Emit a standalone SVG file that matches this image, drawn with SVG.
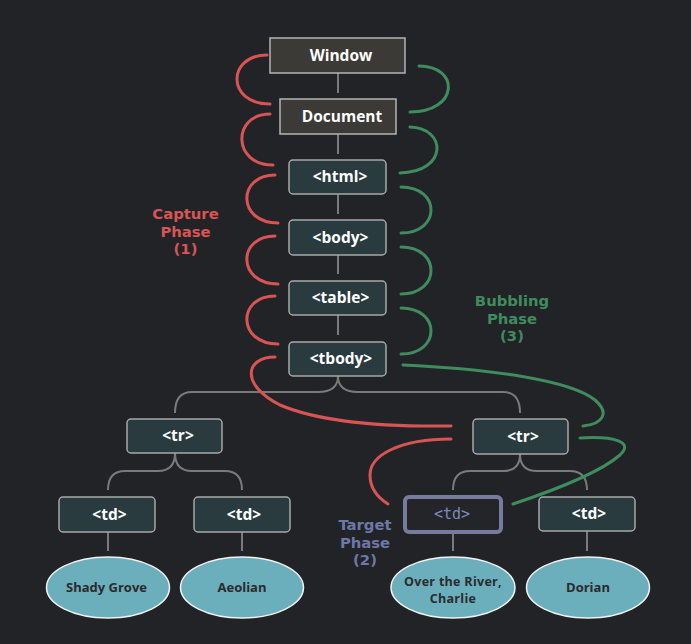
<svg xmlns="http://www.w3.org/2000/svg" width="691" height="644" viewBox="0 0 691 644">
  <style>
    .bg { fill: #222327; }
    .root { fill: #3b3a37; stroke: #b4b4b4; stroke-width: 1.5; }
    .tag { fill: #293b3f; stroke: #a8a8a8; stroke-width: 1.5; }
    .target { fill: #242529; stroke: #777b9e; stroke-width: 4; }
    .leaf { fill: #6aafbb; stroke: #f2f2f2; stroke-width: 1.5; }
    .lbl { font-family: "Open Sans", "Liberation Sans", sans-serif; font-weight: 700; font-size: 15.5px; fill: #ffffff; text-anchor: middle; }
    .mono { font-family: "DejaVu Sans Mono", "Liberation Mono", monospace; font-size: 15px; fill: #7f88bf; text-anchor: middle; }
    .leaftxt { font-family: "Open Sans", "Liberation Sans", sans-serif; font-weight: 700; font-size: 13px; fill: #2a2b2d; text-anchor: middle; }
    .leaftxt2 { font-family: "Open Sans", "Liberation Sans", sans-serif; font-weight: 700; font-size: 12.5px; letter-spacing: 0.3px; fill: #2a2b2d; text-anchor: middle; }
    .phase { font-family: "DejaVu Sans", "Open Sans", sans-serif; font-weight: 700; font-size: 14.8px; text-anchor: middle; }
    .tree { fill: none; stroke: #7a7a7a; stroke-width: 2; }
    .cap { fill: none; stroke: #d95454; stroke-width: 3; stroke-linecap: round; }
    .bub { fill: none; stroke: #3f8c5f; stroke-width: 3; stroke-linecap: round; }
  </style>

  <rect class="bg" x="0" y="0" width="691" height="644"/>

  <!-- tree connectors -->
  <g id="connectors">
    <path class="tree" d="M338,73 V93"/>
    <path class="tree" d="M338,134 V154"/>
    <path class="tree" d="M338,194 V214"/>
    <path class="tree" d="M338,255 V274"/>
    <path class="tree" d="M338,315 V335"/>
    <path class="tree" d="M338,376 Q338,392 318,392 H192 Q175,392 175,413"/>
    <path class="tree" d="M338,376 Q338,392 358,392 H503 Q520,392 520,413"/>
    <path class="tree" d="M175,453 Q175,471 158,471 H125 Q108,471 108,490"/>
    <path class="tree" d="M175,453 Q175,471 192,471 H225 Q242,471 242,490"/>
    <path class="tree" d="M520,454 Q520,471 503,471 H470 Q453,471 453,490"/>
    <path class="tree" d="M520,454 Q520,471 537,471 H570 Q587,471 587,490"/>
    <path class="tree" d="M108,532 V551"/>
    <path class="tree" d="M242,532 V551"/>
    <path class="tree" d="M453,533 V551"/>
    <path class="tree" d="M587,531 V551"/>
  </g>

  <!-- capture phase path -->
  <g id="capture-path">
    <path class="cap" d="M267,55 C227,55 226,104 270,104"/>
    <path class="cap" d="M270,114 C232,114 232,165 273,165"/>
    <path class="cap" d="M275,175 C237,175 237,223 278,223"/>
    <path class="cap" d="M275,236 C237,236 237,284 278,284"/>
    <path class="cap" d="M275,296 C237,296 237,344 278,344"/>
    <path class="cap" d="M275,357 C245,357 240,385 280,405 C320,422 380,427 451,426"/>
    <path class="cap" d="M451,439 C400,439 370,455 370,475 C370,490 380,499 388,504"/>
  </g>

  <!-- bubbling phase path -->
  <g id="bubbling-path">
    <path class="bub" d="M419,66 C460,66 459,112 410,112"/>
    <path class="bub" d="M410,127 C447,128 448,172 400,173"/>
    <path class="bub" d="M401,187 C441,187 441,233 401,233"/>
    <path class="bub" d="M401,247 C441,247 441,294 401,294"/>
    <path class="bub" d="M401,308 C441,308 441,354 401,354"/>
    <path class="bub" d="M403,365 C490,369 570,380 595,400 C610,413 603,424 583,426"/>
    <path class="bub" d="M580,438 C615,436 634,442 620,455 C597,475 540,495 513,504"/>
  </g>

  <!-- nodes -->
  <g id="window">
    <rect class="root" x="270" y="38" width="135" height="35"/>
    <text class="lbl" x="341" y="61">Window</text>
  </g>
  <g id="document">
    <rect class="root" x="280" y="99" width="116" height="35"/>
    <text class="lbl" x="342" y="122">Document</text>
  </g>
  <g id="html">
    <rect class="tag" x="289" y="160" width="97" height="34" rx="4"/>
    <text class="lbl" x="340" y="182">&lt;html&gt;</text>
  </g>
  <g id="body">
    <rect class="tag" x="289" y="220" width="97" height="35" rx="4"/>
    <text class="lbl" x="340.5" y="243">&lt;body&gt;</text>
  </g>
  <g id="table">
    <rect class="tag" x="289" y="281" width="97" height="34" rx="4"/>
    <text class="lbl" x="340.5" y="303">&lt;table&gt;</text>
  </g>
  <g id="tbody">
    <rect class="tag" x="289" y="342" width="97" height="34" rx="4"/>
    <text class="lbl" x="341" y="364">&lt;tbody&gt;</text>
  </g>
  <g id="tr-left">
    <rect class="tag" x="127" y="419" width="95" height="34" rx="4"/>
    <text class="lbl" x="178" y="441">&lt;tr&gt;</text>
  </g>
  <g id="tr-right">
    <rect class="tag" x="473" y="419" width="95" height="35" rx="4"/>
    <text class="lbl" x="523" y="442">&lt;tr&gt;</text>
  </g>
  <g id="td-1">
    <rect class="tag" x="59" y="497" width="96" height="35" rx="4"/>
    <text class="lbl" x="109.5" y="520">&lt;td&gt;</text>
  </g>
  <g id="td-2">
    <rect class="tag" x="194" y="497" width="96" height="35" rx="4"/>
    <text class="lbl" x="244" y="520">&lt;td&gt;</text>
  </g>
  <g id="td-target">
    <rect class="target" x="405" y="497" width="96" height="35" rx="4"/>
    <text class="mono" x="452" y="519">&lt;td&gt;</text>
  </g>
  <g id="td-4">
    <rect class="tag" x="539" y="497" width="96" height="34" rx="4"/>
    <text class="lbl" x="589" y="519">&lt;td&gt;</text>
  </g>

  <g id="leaf-shady-grove">
    <ellipse class="leaf" cx="108" cy="587.5" rx="61.5" ry="30.5"/>
    <text class="leaftxt" x="106.5" y="592">Shady Grove</text>
  </g>
  <g id="leaf-aeolian">
    <ellipse class="leaf" cx="242" cy="587.5" rx="61.5" ry="30.5"/>
    <text class="leaftxt" x="242" y="592">Aeolian</text>
  </g>
  <g id="leaf-over-the-river">
    <ellipse class="leaf" cx="453" cy="587.5" rx="62" ry="30.5"/>
    <text class="leaftxt2"><tspan x="453" y="586">Over the River,</tspan><tspan x="453" y="603">Charlie</tspan></text>
  </g>
  <g id="leaf-dorian">
    <ellipse class="leaf" cx="588" cy="587.5" rx="61.5" ry="30.5"/>
    <text class="leaftxt" x="588" y="592">Dorian</text>
  </g>

  <!-- phase labels -->
  <g id="label-capture">
    <text class="phase" fill="#d95454"><tspan x="185.5" y="219">Capture</tspan><tspan x="185.5" y="236.5">Phase</tspan><tspan x="185.5" y="254">(1)</tspan></text>
  </g>
  <g id="label-bubbling">
    <text class="phase" fill="#3f8c5f"><tspan x="512" y="306">Bubbling</tspan><tspan x="512" y="323.5">Phase</tspan><tspan x="512" y="341">(3)</tspan></text>
  </g>
  <g id="label-target">
    <text class="phase" fill="#6e78a8"><tspan x="365" y="530">Target</tspan><tspan x="365" y="547.5">Phase</tspan><tspan x="365" y="565">(2)</tspan></text>
  </g>
</svg>
